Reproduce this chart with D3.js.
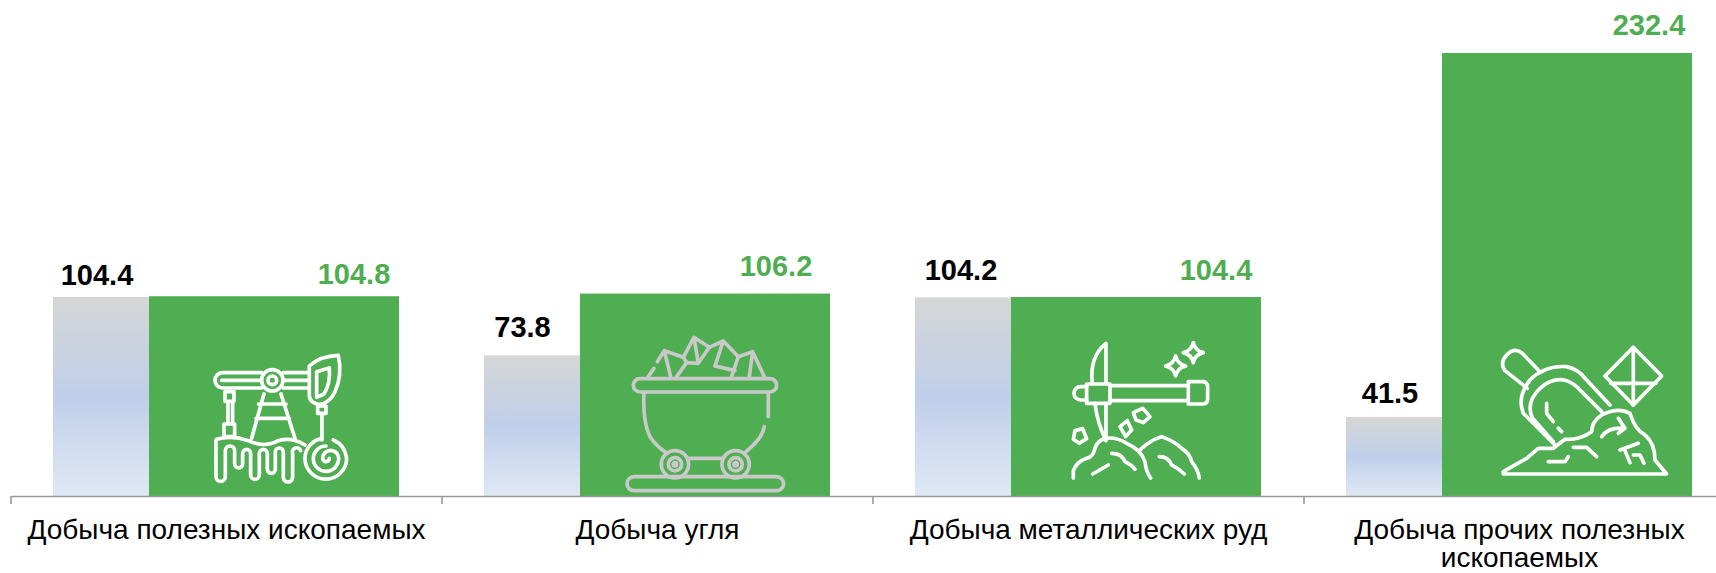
<!DOCTYPE html>
<html lang="en">
<head>
    <meta charset="UTF-8">
    <title>Добыча полезных ископаемых</title>
    <script src="https://cdn.jsdelivr.net/npm/d3@7"></script>
    <style>
        html, body { margin: 0; padding: 0; background: #fff; }
        svg { display: block; }
        text { font-family: "Liberation Sans", Arial, sans-serif; }
        .value { font-size: 29px; font-weight: bold; text-anchor: middle; }
        .axis text { font-size: 28px; fill: #000; }
        .icon path, .icon circle { fill: none; stroke-width: 11; stroke-linejoin: round; stroke-linecap: round; }
    </style>
</head>
<body>
<svg id="chart" width="1716" height="573"></svg>
<script>
    const categories = ["Добыча полезных ископаемых", "Добыча угля", "Добыча металлических руд", "Добыча прочих полезных ископаемых"];
    const greyValues = [104.4, 73.8, 104.2, 41.5];
    const greenValues = [104.8, 106.2, 104.4, 232.4];
    const greyLabels = ["104.4", "73.8", "104.2", "41.5"];
    const greenLabels = ["104.8", "106.2", "104.4", "232.4"];

    const GREEN = "#4fae52";
    const baseY = 496;
    const svg = d3.select("#chart");

    const x = d3.scaleBand().domain(categories).range([11, 1735]);
    const y = d3.scaleLinear().domain([0, 232.4]).range([baseY, 53]);

    // labels were hand placed in the original, so they get nudged
    const greyNudge = [{dx: -4, dy: 12}, {dx: -9.5, dy: 18}, {dx: -2, dy: 17}, {dx: -4, dy: 14}];
    const greenNudge = [{dx: 80, dy: 12}, {dx: 71, dy: 18}, {dx: 80, dy: 17}, {dx: 82, dy: 18}];

    const grad = svg.append("defs").append("linearGradient")
        .attr("id", "greyBlue").attr("x1", 0).attr("y1", 0).attr("x2", 0).attr("y2", 1);
    grad.append("stop").attr("offset", "0%").attr("stop-color", "#d6d6d6");
    grad.append("stop").attr("offset", "50%").attr("stop-color", "#bfcfea");
    grad.append("stop").attr("offset", "100%").attr("stop-color", "#e0e8f5");

    const greyX = d => x(d) + 42, greyW = 96;
    const greenX = d => x(d) + 138, greenW = 250;

    svg.selectAll("rect.grey").data(categories).join("rect")
        .attr("class", "grey")
        .attr("x", greyX)
        .attr("width", greyW)
        .attr("y", (d, i) => y(greyValues[i]))
        .attr("height", (d, i) => baseY - y(greyValues[i]))
        .attr("fill", "url(#greyBlue)");

    svg.selectAll("rect.green").data(categories).join("rect")
        .attr("class", "green")
        .attr("x", greenX)
        .attr("width", greenW)
        .attr("y", (d, i) => y(greenValues[i]))
        .attr("height", (d, i) => baseY - y(greenValues[i]))
        .attr("fill", GREEN);

    svg.selectAll("text.greyVal").data(categories).join("text")
        .attr("class", "value greyVal")
        .attr("x", (d, i) => greyX(d) + greyW / 2 + greyNudge[i].dx)
        .attr("y", (d, i) => y(greyValues[i]) - greyNudge[i].dy)
        .attr("fill", "#000")
        .text((d, i) => greyLabels[i]);

    svg.selectAll("text.greenVal").data(categories).join("text")
        .attr("class", "value greenVal")
        .attr("x", (d, i) => greenX(d) + greenW / 2 + greenNudge[i].dx)
        .attr("y", (d, i) => y(greenValues[i]) - greenNudge[i].dy)
        .attr("fill", GREEN)
        .text((d, i) => greenLabels[i]);

    // axis: labels come from the band axis, ticks sit on the band edges
    const axis = svg.append("g").attr("class", "axis")
        .attr("transform", `translate(0,${baseY})`)
        .call(d3.axisBottom(x).tickSize(0).tickPadding(0));
    axis.select(".domain").attr("stroke", "#999").attr("stroke-width", 1.6);
    axis.selectAll(".tick text").attr("y", 0).attr("dy", 0).each(function(d) {
        const t = d3.select(this).text(null);
        const lines = d.length > 26 ? ["Добыча прочих полезных", "ископаемых"] : [d];
        lines.forEach((s, i) => t.append("tspan").attr("x", 0).attr("y", 43 + i * 28).text(s));
    });
    axis.selectAll("line.edge").data(categories).join("line")
        .attr("class", "edge")
        .attr("x1", d => x(d)).attr("x2", d => x(d))
        .attr("y1", 0).attr("y2", 8)
        .attr("stroke", "#999").attr("stroke-width", 1.6);

    // icons, traced in the 3x crop coordinates of each group
    function icon(ox, colour, shapes) {
        const g = svg.append("g").attr("class", "icon")
            .attr("transform", `translate(${ox},240) scale(0.3333)`);
        shapes.forEach(s => {
            if (s.r) g.append("circle").attr("cx", s.cx).attr("cy", s.cy).attr("r", s.r).attr("stroke", colour);
            else g.append("path").attr("d", s).attr("stroke", colour);
        });
    }

    icon(0, "#fff", [
        "M785 398H668a23 23 0 0 0 0 46H785M665 421H782",
        "M850 398H925M850 444H925M850 421H925",
        {cx: 817, cy: 421, r: 32}, {cx: 817, cy: 421, r: 13},
        "M928 378Q960 348 1015 346Q1028 405 1005 455Q990 488 958 494Q930 488 928 468Z",
        "M950 395L988 384Q992 430 972 462L950 472Z",
        "M675 455H702V484H675ZM684 484V550M698 484V550M672 552H704V590H672Z",
        "M792 462L755 595M843 462L885 595M776 492H858M768 535H868",
        "M953 498H978V520H953ZM966 520V600",
        "M650 598Q695 585 745 602Q795 625 835 602Q875 590 915 615",
        "M1000 600Q1035 615 1040 655A62 62 0 1 1 915 655A60 60 0 0 1 965 596",
        "M978 618A38 38 0 1 0 1016 655A24 24 0 1 0 968 655A10 10 0 0 0 988 655",
        "M648 600V710A14 14 0 0 0 676 710V632A14 14 0 0 1 704 632V672A12 12 0 0 0 728 672V640A12 12 0 0 1 752 640V705A13 13 0 0 0 778 705V640A12 12 0 0 1 802 640V688A12 12 0 0 0 826 688V636A12 12 0 0 1 850 636V712A14 14 0 0 0 878 712V640A12 12 0 0 1 902 632"
    ]);

    icon(430, "#c9c9c9", [
        "M630 416H1020A20 20 0 0 1 1020 456H630A20 20 0 0 1 630 416Z",
        "M642 458Q638 545 660 590Q680 620 712 640",
        "M1015 458V530M1003 560Q998 590 965 620L945 638",
        "M775 655H880",
        "M612 710H1040A20 20 0 0 1 1040 752H612A20 20 0 0 1 612 710Z",
        {cx: 735, cy: 673, r: 41}, {cx: 735, cy: 673, r: 20}, {cx: 735, cy: 673, r: 5},
        {cx: 917, cy: 673, r: 41}, {cx: 917, cy: 673, r: 20}, {cx: 917, cy: 673, r: 5},
        "M655 410L672 385M682 365L703 332L722 410M703 332L760 352L770 368",
        "M760 352L792 292L838 322L805 370L770 368L740 410M792 292L805 370",
        "M838 322L880 303L925 350L905 410M880 303L855 378L915 392",
        "M925 350L968 335L1003 410M968 335L958 410"
    ]);

    icon(860, "#fff", [
        "M680 432H750V490H680Z",
        "M750 437H985M750 482H985",
        "M985 425H1030A14 14 0 0 1 1043 438V480A14 14 0 0 1 1030 492H985Z",
        "M680 440H662A20 20 0 0 0 662 480H680",
        "M738 310Q688 350 697 430M738 310V430",
        "M705 490Q712 550 738 602V490",
        "M947 348Q952 372 977 378Q952 384 947 408Q942 384 917 378Q942 372 947 348Z",
        "M1000 308Q1005 332 1030 338Q1005 344 1000 368Q995 344 970 338Q995 332 1000 308Z",
        "M645 572L668 566L680 596L658 610L640 598Z",
        "M780 560L802 542L815 570L797 590Z",
        "M820 518L848 505L870 530L850 548L828 540Z",
        "M640 714V692Q650 665 680 655Q700 650 705 625Q710 605 735 595Q770 590 800 610Q845 630 855 665Q858 695 872 714",
        "M840 630Q870 600 905 590Q945 605 965 625Q990 640 995 665Q1015 690 1018 714",
        "M698 702L745 675M755 640Q785 640 795 665Q815 675 825 688",
        "M898 650Q925 650 935 675Q955 685 973 702"
    ]);

    icon(1290, "#fff", [
        "M750 395L695 338Q672 322 650 345Q628 368 645 392L712 445",
        "M795 615L700 520Q680 470 720 420Q765 375 830 380Q865 388 885 415L960 495",
        "M790 605L728 535Q705 490 750 445Q790 410 830 422Q855 432 870 450L935 515",
        "M770 490V520L790 545M805 565L815 575",
        "M1030 322L1115 408L1030 495L945 408Z",
        "M1030 322V495M962 430H1098",
        "M640 702H1130L1095 660Q1095 610 1065 585Q1035 570 1020 520Q985 500 935 525Q905 545 905 575Q870 600 825 598L790 625L745 625L710 655L640 695Z",
        "M935 590Q955 560 1005 565M985 535L1005 565L985 580",
        "M850 622H890L920 650M775 665H825L835 650",
        "M990 630L1045 610M1005 632L1020 668M1030 645H1050L1062 670"
    ]);
</script>
</body>
</html>
